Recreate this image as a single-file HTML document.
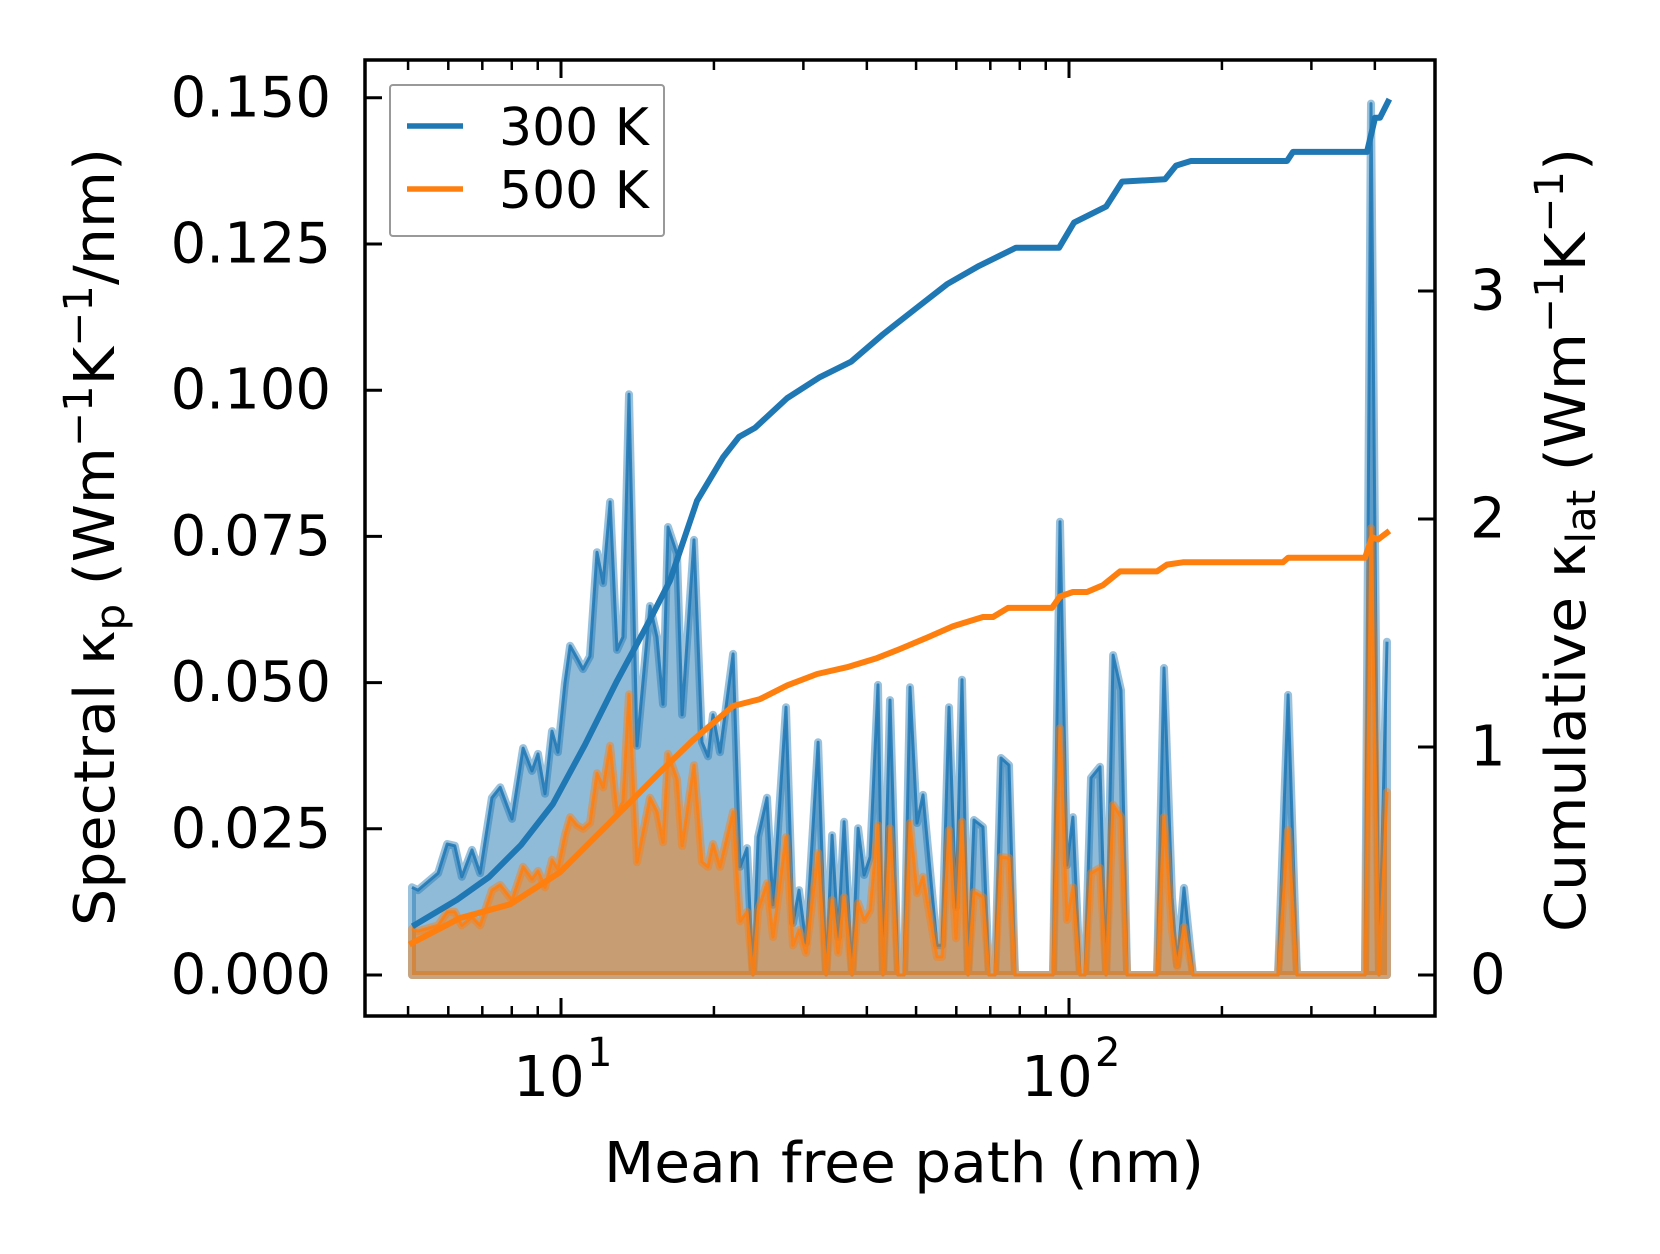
<!DOCTYPE html>
<html><head><meta charset="utf-8"><style>
html,body{margin:0;padding:0;background:#fff;}
svg{display:block;font-family:"DejaVu Sans","Liberation Sans",sans-serif;}
</style></head><body>
<svg id="chart" width="1660" height="1254" viewBox="0 0 1660 1254" xmlns="http://www.w3.org/2000/svg">
<rect x="0" y="0" width="1660" height="1254" fill="#fff"/>
<g id="plot"></g>
<g id="axes"></g>
</svg>
<script>
// ---- data ----
const mfp = [5.09,5.23,5.73,5.97,6.18,6.38,6.68,6.93,7.31,7.59,8.01,8.42,8.77,9.01,9.30,9.60,9.86,10.18,10.42,10.75,11.05,11.40,11.77,12.10,12.49,12.89,13.24,13.61,14.11,14.97,15.45,15.88,16.24,16.92,17.31,18.27,18.95,19.47,19.92,20.56,21.82,22.52,23.24,23.88,24.43,25.44,26.14,27.73,28.62,29.41,30.36,32.07,33.25,34.17,35.11,36.08,37.41,38.44,39.51,40.59,42.07,43.04,44.43,46.07,47.34,48.64,50.21,51.60,54.98,56.23,58.05,59.93,61.58,63.28,65.02,67.73,69.59,71.51,73.48,76.19,78.29,93.0,96.0,99.1,101.8,105.1,107.5,110.5,115.1,118.3,122.1,126.6,130.1,149.0,153.8,159.5,163.2,168.4,175.4,257.9,269.9,281.1,382.6,393.1,407.6,422.7];
const spec300 = [.0150,.0145,.0174,.0224,.0221,.0168,.0214,.0174,.0303,.0321,.0267,.0388,.0349,.0378,.0310,.0417,.0381,.0499,.0563,.0542,.0523,.0545,.0723,.0670,.0809,.0556,.0578,.0993,.0392,.0631,.0578,.0463,.0766,.0720,.0445,.0744,.0398,.0374,.0445,.0381,.0549,.0185,.0217,0,.0236,.0303,.0120,.0458,.0089,.0145,.0055,.0398,0,.0239,.0065,.0262,0,.0251,.0171,.0202,.0496,0,.0470,0,0,.0492,.0260,.0308,.0051,.0051,.0458,.0116,.0505,0,.0265,.0253,0,0,.0371,.0359,0,0,.0775,.0188,.0270,0,0,.0337,.0356,0,.0547,.0487,0,0,.0525,.0133,.0017,.0149,0,0,.0479,0,0,.149,0,.0570];
const spec500 = [.0079,.0075,.0085,.0108,.0108,.0085,.0099,.0085,.0145,.0154,.0128,.0185,.0164,.0178,.0150,.0197,.0181,.0239,.0270,.0256,.0250,.0260,.0345,.0321,.0392,.0279,.0296,.0480,.0193,.0303,.0279,.0227,.0378,.0335,.0221,.0359,.0193,.0185,.0224,.0185,.0279,.0092,.0108,0,.0111,.0157,.0065,.0236,.0051,.0077,.0038,.0209,0,.0128,.0038,.0133,0,.0123,.0094,.0111,.0256,0,.0251,0,0,.0260,.0140,.0168,.0031,.0031,.0248,.0063,.0262,0,.0142,.0133,0,0,.0202,.0200,0,0,.0422,.0094,.0150,0,0,.0174,.0183,0,.0291,.0270,0,0,.0270,.0077,.0014,.0082,0,0,.0248,0,0,.0764,0,.0313];
const cumX300 = [5.16,6.24,7.22,8.34,9.64,11.15,12.89,14.90,16.39,18.52,20.84,22.41,24.10,27.86,32.22,37.24,43.04,49.76,57.53,66.5,78.65,95.6,102.3,118.3,127.2,154.5,162.4,173.8,268.6,276.0,386.1,400.4,409.5,424.6];
const cum300 = [0.22,0.33,0.43,0.57,0.75,1.01,1.29,1.55,1.73,2.08,2.27,2.36,2.40,2.53,2.62,2.69,2.81,2.92,3.03,3.11,3.19,3.19,3.30,3.37,3.48,3.49,3.55,3.57,3.57,3.61,3.61,3.76,3.76,3.83];
const cumX500 = [5.09,6.33,7.94,9.95,12.49,15.66,18.19,21.82,24.65,27.86,31.92,36.56,41.88,46.49,52.55,59.12,67.73,70.86,75.86,92.6,96.0,101.8,108.5,116.7,126.0,149.0,155.9,167.6,263.8,269.9,382.6,395.0,405.8,422.7];
const cum500 = [0.14,0.25,0.31,0.45,0.67,0.89,1.03,1.18,1.21,1.27,1.32,1.35,1.39,1.43,1.48,1.53,1.57,1.57,1.61,1.61,1.66,1.68,1.68,1.71,1.77,1.77,1.80,1.81,1.81,1.83,1.83,1.92,1.91,1.94];
const leftTicks = [0,0.025,0.05,0.075,0.1,0.125,0.15];
const leftTickLabels = ["0.000","0.025","0.050","0.075","0.100","0.125","0.150"];
const rightTicks = [0,1,2,3];
const rightTickLabels = ["0","1","2","3"];
const xMajor = [10,100];
const xMajorExp = ["1","2"];
const xMinor = [5,6,7,8,9,20,30,40,50,60,70,80,90,200,300,400];

// ---- geometry ----
const L=365,R=1435,T=60,B=1016;
const X=v=>561+508*(Math.log10(v)-1);
const YL=v=>975-v/0.025*146.2;
const YR=v=>975-v*228;
const NS="http://www.w3.org/2000/svg";
function mk(tag,attrs,parent){const e=document.createElementNS(NS,tag);for(const k in attrs)e.setAttribute(k,attrs[k]);parent.appendChild(e);return e;}
const plot=document.getElementById('plot'), axes=document.getElementById('axes');

function spectral(vals,color,name){
  let pts=mfp.map((m,i)=>X(m).toFixed(1)+','+YL(vals[i]).toFixed(1));
  const area=mk('polygon',{points:X(mfp[0])+','+YL(0)+' '+pts.join(' ')+' '+X(mfp[mfp.length-1])+','+YL(0),fill:color,'fill-opacity':0.5,stroke:color,'stroke-opacity':0.45,'stroke-width':8,'stroke-linejoin':'round'},plot);
  
  
  const ln=mk('polyline',{points:pts.join(' '),fill:'none',stroke:color,'stroke-opacity':0.85,'stroke-width':3,'stroke-linejoin':'round'},plot);
  
  
}
spectral(spec300,'#1f77b4','spectral-300k');
spectral(spec500,'#ff7f0e','spectral-500k');
function cumLine(xs,vals,color,name){
  const pts=xs.map((m,i)=>X(m).toFixed(1)+','+YR(vals[i]).toFixed(1)).join(' ');
  const ln=mk('polyline',{points:pts,fill:'none',stroke:color,'stroke-width':6,'stroke-linejoin':'round','stroke-linecap':'square'},plot);
  
  
}
cumLine(cumX300,cum300,'#1f77b4','cumulative-300k-line');
cumLine(cumX500,cum500,'#ff7f0e','cumulative-500k-line');

// ---- axes ----
const frame=mk('rect',{x:L,y:T,width:R-L,height:B-T,fill:'none',stroke:'#000','stroke-width':3.5},axes);


leftTicks.forEach((v,i)=>{
  const y=YL(v);
  const t=mk('line',{x1:L,x2:L+17,y1:y,y2:y,stroke:'#000','stroke-width':3},axes);
  
  
  const lb=mk('text',{x:331,y:y,'text-anchor':'end','dominant-baseline':'central','font-size':56},axes);
  lb.textContent=leftTickLabels[i];
  
  
});
rightTicks.forEach((v,i)=>{
  const y=YR(v);
  const t=mk('line',{x1:R-17,x2:R,y1:y,y2:y,stroke:'#000','stroke-width':3},axes);
  
  
  const lb=mk('text',{x:1470,y:y,'dominant-baseline':'central','font-size':56},axes);
  lb.textContent=rightTickLabels[i];
  
  
});
xMajor.forEach((v,i)=>{
  const x=X(v);
  [[B,B-18],[T,T+18]].forEach(p=>{
    const t=mk('line',{x1:x,x2:x,y1:p[0],y2:p[1],stroke:'#000','stroke-width':3},axes);
    
    
  });
  const lb=mk('text',{x:x-12,y:1096,'text-anchor':'middle','font-size':56},axes);
  lb.textContent='10';
  
  
  const sp=mk('text',{x:x+26,y:1066,'font-size':40},axes);
  sp.textContent=xMajorExp[i];
  
  
});
xMinor.forEach(v=>{
  const x=X(v);
  [[B,B-10],[T,T+10]].forEach(p=>{
    const t=mk('line',{x1:x,x2:x,y1:p[0],y2:p[1],stroke:'#000','stroke-width':2.5},axes);
    
    
  });
});
</script>
<svg style="position:absolute;left:0;top:0" width="1660" height="1254" viewBox="0 0 1660 1254" xmlns="http://www.w3.org/2000/svg" font-family="DejaVu Sans, Liberation Sans, sans-serif">
<text x="904" y="1182" text-anchor="middle" font-size="56" textLength="600" lengthAdjust="spacingAndGlyphs">Mean free path (nm)</text>
<text transform="translate(114,537) rotate(-90)" text-anchor="middle" font-size="56" textLength="778" lengthAdjust="spacingAndGlyphs">Spectral κ<tspan font-size="40" dy="10">p</tspan><tspan dy="-10"> (Wm</tspan><tspan font-size="40" dy="-22">−1</tspan><tspan dy="22">K</tspan><tspan font-size="40" dy="-22">−1</tspan><tspan dy="22">/nm)</tspan></text>
<text transform="translate(1585,540) rotate(-90)" text-anchor="middle" font-size="56" textLength="784" lengthAdjust="spacingAndGlyphs">Cumulative κ<tspan font-size="40" dy="10">lat</tspan><tspan dy="-10"> (Wm</tspan><tspan font-size="40" dy="-22">−1</tspan><tspan dy="22">K</tspan><tspan font-size="40" dy="-22">−1</tspan><tspan dy="22">)</tspan></text>
<g>
<rect x="390" y="85" width="274" height="151" rx="3" fill="#fff" fill-opacity="0.8" stroke="#999" stroke-width="2"/>
<line x1="407" x2="463" y1="126" y2="126" stroke="#1f77b4" stroke-width="5.5"/>
<text x="499" y="145" font-size="52">300 K</text>
<line x1="407" x2="463" y1="189" y2="189" stroke="#ff7f0e" stroke-width="5.5"/>
<text x="499" y="208" font-size="52">500 K</text>
</g>
</svg>
</body></html>
